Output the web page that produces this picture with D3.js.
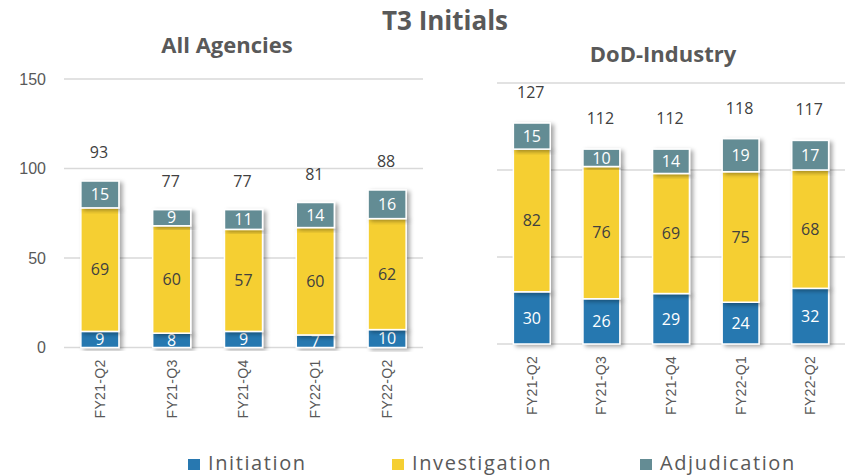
<!DOCTYPE html>
<html>
<head>
<meta charset="utf-8">
<script src="https://cdn.jsdelivr.net/npm/d3@7"></script>
<style>
  body { margin: 0; background: #fff; }
  svg { display: block; }
</style>
</head>
<body>
<svg id="chart" width="848" height="475"></svg>
<script>
const categories = ["FY21-Q2", "FY21-Q3", "FY21-Q4", "FY22-Q1", "FY22-Q2"];
const seriesNames = ["Initiation", "Investigation", "Adjudication"];
const allInitiation = [9, 8, 9, 7, 10];
const allInvestigation = [69, 60, 57, 60, 62];
const allAdjudication = [15, 9, 11, 14, 16];
const allTotals = [93, 77, 77, 81, 88];
const dodInitiation = [30, 26, 29, 24, 32];
const dodInvestigation = [82, 76, 69, 75, 68];
const dodAdjudication = [15, 10, 14, 19, 17];
const dodTotals = [127, 112, 112, 118, 117];
const yTicks = [0, 50, 100, 150];
const colors = ["#2878B0", "#F5CF32", "#648C94"];
const labelColors = ["#ffffff", "#404040", "#ffffff"];

const svg = d3.select("#chart");
const defs = svg.append("defs");
const f = defs.append("filter").attr("id", "shadow").attr("x", "-20%").attr("y", "-20%").attr("width", "160%").attr("height", "140%");
f.append("feDropShadow").attr("dx", 3).attr("dy", 2).attr("stdDeviation", 2.2).attr("flood-color", "#000").attr("flood-opacity", 0.35);

// Title
svg.append("text").attr("x", 445).attr("y", 30).attr("text-anchor", "middle")
  .attr("font-family", "Open Sans").attr("font-weight", "bold").attr("font-size", 26)
  .attr("fill", "#595959").text("T3 Initials");

function panel(opts) {
  const { x0, x1, y0, y150, title, titleX, titleY, series, totals, showAxis, totalOffset } = opts;
  const g = svg.append("g");
  const x = d3.scaleBand().domain(categories).range([x0, x1]).paddingInner(0.47).paddingOuter(0.235);
  const y = d3.scaleLinear().domain([0, 150]).range([y0, y150]);

  g.append("text").attr("x", titleX).attr("y", titleY).attr("text-anchor", "middle")
    .attr("font-family", "Open Sans").attr("font-weight", "bold").attr("font-size", 22)
    .attr("fill", "#595959").text(title);

  // gridlines
  g.selectAll(".grid").data(yTicks).enter().append("line")
    .attr("x1", x0).attr("x2", x1).attr("y1", d => y(d)).attr("y2", d => y(d))
    .attr("stroke", "#d9d9d9").attr("stroke-width", 1.5);

  if (showAxis) {
    const ax = g.append("g").attr("transform", `translate(${x0 - 18},0)`)
      .call(d3.axisLeft(y).tickValues(yTicks).tickSize(0).tickPadding(0));
    ax.select(".domain").remove();
    ax.selectAll("text").attr("font-family", "Liberation Sans").attr("font-size", 16).attr("fill", "#595959");
  }

  // stack
  const rows = categories.map((c, i) => ({ cat: c, Initiation: series[0][i], Investigation: series[1][i], Adjudication: series[2][i], total: totals[i] }));
  const stacked = d3.stack().keys(seriesNames)(rows);

  const layers = g.selectAll(".layer").data(stacked).enter().append("g");
  layers.selectAll("rect").data(d => d.map(p => ({ p, key: d.key }))).enter().append("rect")
    .attr("x", d => x(d.p.data.cat))
    .attr("y", d => y(d.p[1]))
    .attr("width", x.bandwidth())
    .attr("height", d => y(d.p[0]) - y(d.p[1]))
    .attr("fill", d => colors[seriesNames.indexOf(d.key)])
    .attr("stroke", "#fff").attr("stroke-width", 1.5)
    .attr("filter", "url(#shadow)");

  layers.selectAll("text").data(d => d.map(p => ({ p, key: d.key }))).enter().append("text")
    .attr("x", d => x(d.p.data.cat) + x.bandwidth() / 2)
    .attr("y", d => (y(d.p[0]) + y(d.p[1])) / 2)
    .attr("dy", "0.36em")
    .attr("text-anchor", "middle")
    .attr("font-family", "Open Sans").attr("font-size", 16)
    .attr("fill", d => labelColors[seriesNames.indexOf(d.key)])
    .text(d => d.p[1] - d.p[0]);

  g.selectAll(".tot").data(rows).enter().append("text")
    .attr("x", d => x(d.cat) + x.bandwidth() / 2 - 1)
    .attr("y", d => y(d.total) - totalOffset)
    .attr("text-anchor", "middle")
    .attr("font-family", "Open Sans").attr("font-size", 16)
    .attr("fill", "#404040").text(d => d.total);

  // x labels rotated
  g.selectAll(".xl").data(categories).enter().append("text")
    .attr("transform", d => `translate(${x(d) + x.bandwidth() / 2},${y0 + 12}) rotate(-90)`)
    .attr("dy", "0.35em")
    .attr("text-anchor", "end")
    .attr("font-family", "Liberation Sans").attr("font-size", 14).attr("letter-spacing", 0.3)
    .attr("fill", "#595959").text(d => d);
}

panel({ x0: 64, x1: 423, y0: 347.5, y150: 79, title: "All Agencies", titleX: 227, titleY: 53,
  series: [allInitiation, allInvestigation, allAdjudication], totals: allTotals, showAxis: true, totalOffset: 23 });
panel({ x0: 497, x1: 845, y0: 344, y150: 83, title: "DoD-Industry", titleX: 663, titleY: 62,
  series: [dodInitiation, dodInvestigation, dodAdjudication], totals: dodTotals, showAxis: false, totalOffset: 25 });

// legend
const legendX = [188, 392, 640];
const lg = svg.append("g");
seriesNames.forEach((s, i) => {
  lg.append("rect").attr("x", legendX[i]).attr("y", 459).attr("width", 12).attr("height", 11).attr("fill", colors[i]);
  lg.append("text").attr("x", legendX[i] + 20).attr("y", 470)
    .attr("font-family", "Open Sans").attr("font-size", 20).attr("letter-spacing", 1.6)
    .attr("fill", "#595959").text(s);
});
</script>
</body>
</html>
